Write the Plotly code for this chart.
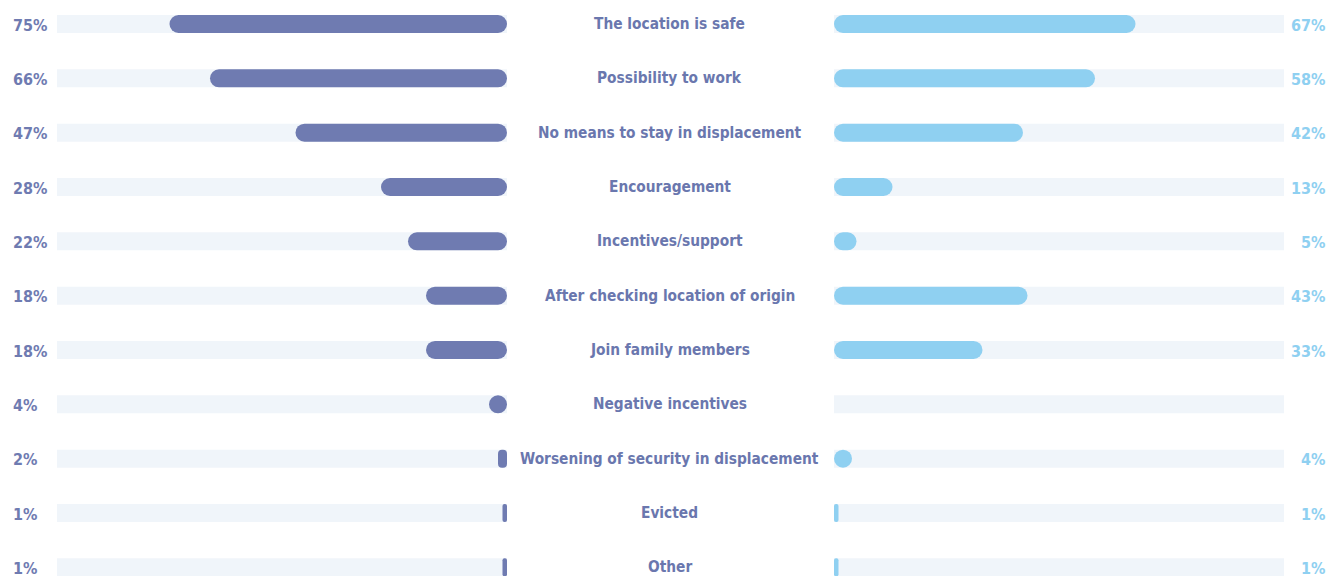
import plotly.graph_objects as go

categories = [
    "The location is safe",
    "Possibility to work",
    "No means to stay in displacement",
    "Encouragement",
    "Incentives/support",
    "After checking location of origin",
    "Join family members",
    "Negative incentives",
    "Worsening of security in displacement",
    "Evicted",
    "Other",
]
left_values = [75, 66, 47, 28, 22, 18, 18, 4, 2, 1, 1]
right_values = [67, 58, 42, 13, 5, 43, 33, None, 4, 1, 1]

W, H = 1328, 576
LEFT_COLOR = "#6f7bb1"
RIGHT_COLOR = "#8fd0f1"
TRACK_COLOR = "#f0f5fa"
LABEL_COLOR = "#6a77ae"
FONT = "DejaVu Sans Condensed, Liberation Sans Narrow, sans-serif"

# geometry
left_dom = [57 / W, 507 / W]
right_dom = [834 / W, 1284 / W]
px_per_unit = (507 - 57) / 100.0
row_pitch = 54.33
row0 = 24.0
bar_w = 18.0 / row_pitch
ypos = list(range(len(categories)))

fig = go.Figure()

# background tracks
for xa in ["x", "x2"]:
    fig.add_trace(go.Bar(
        y=ypos, x=[100] * len(ypos), base=0, orientation="h",
        xaxis=xa, yaxis="y", width=bar_w,
        marker=dict(color=TRACK_COLOR, line=dict(width=0)),
        hoverinfo="skip", showlegend=False,
    ))

def add_pill(v, yi, xa, color):
    if v is None or v <= 0:
        return
    r = min(9.0, v * px_per_unit / 2.0)
    fig.add_trace(go.Bar(
        y=[yi], x=[v], base=[0], orientation="h",
        xaxis=xa, yaxis="y", width=bar_w,
        marker=dict(color=color, line=dict(width=0), cornerradius=r),
        hoverinfo="skip", showlegend=False,
    ))

for i, (lv, rv) in enumerate(zip(left_values, right_values)):
    add_pill(lv, i, "x", LEFT_COLOR)
    add_pill(rv, i, "x2", RIGHT_COLOR)

annotations = []
for i, (cat, lv, rv) in enumerate(zip(categories, left_values, right_values)):
    annotations.append(dict(
        x=670 / W, xref="paper", y=i, yref="y", text=cat, showarrow=False,
        xanchor="center", yanchor="middle",
        font=dict(family=FONT, size=15.3, color=LABEL_COLOR, weight="bold"),
    ))
    if lv is not None:
        annotations.append(dict(
            x=11 / W, xref="paper", y=i + 0.02, yref="y", text=f"{lv}%", showarrow=False,
            xanchor="left", yanchor="middle",
            font=dict(family=FONT, size=16, color=LEFT_COLOR, weight="bold"),
        ))
    if rv is not None:
        annotations.append(dict(
            x=1327 / W, xref="paper", y=i + 0.02, yref="y", text=f"{rv}%", showarrow=False,
            xanchor="right", yanchor="middle",
            font=dict(family=FONT, size=16, color=RIGHT_COLOR, weight="bold"),
        ))

y_top = -row0 / row_pitch
y_bot = (H - row0) / row_pitch

fig.update_layout(
    width=W, height=H,
    margin=dict(l=0, r=0, t=0, b=0),
    paper_bgcolor="white", plot_bgcolor="white",
    barmode="overlay",
    showlegend=False,
    xaxis=dict(domain=left_dom, range=[100, 0], visible=False, fixedrange=True),
    xaxis2=dict(domain=right_dom, range=[0, 100], visible=False, anchor="y", fixedrange=True),
    yaxis=dict(range=[y_bot, y_top], visible=False, fixedrange=True),
    annotations=annotations,
)

fig.write_html(
    "out.html",
    config={"displayModeBar": False},
    post_script="document.body.style.margin='0';document.body.style.overflow='hidden';",
)
